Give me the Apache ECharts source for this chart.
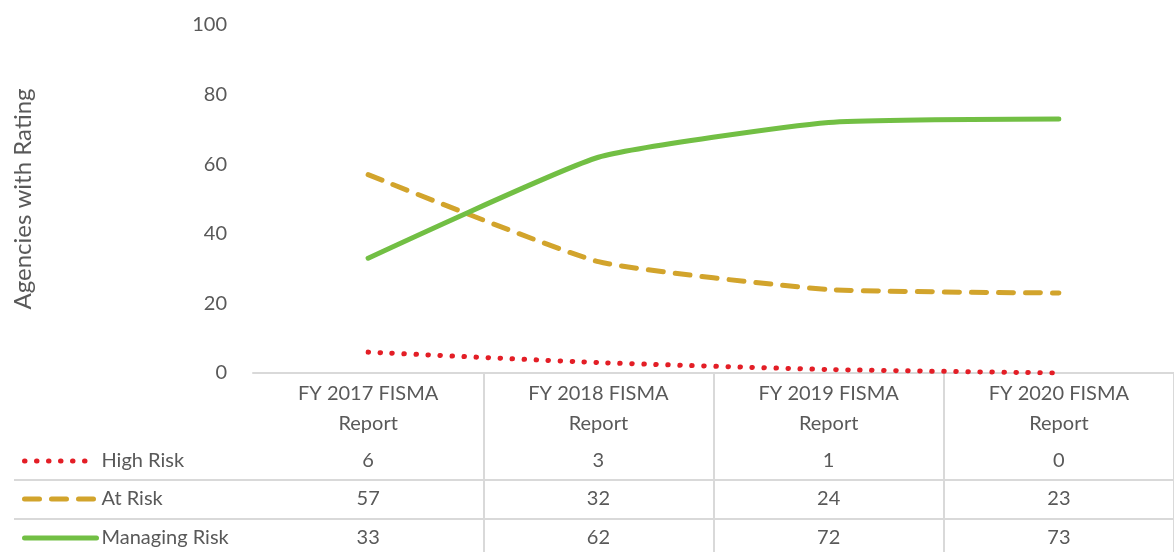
<!DOCTYPE html>
<html>
<head>
<meta charset="utf-8">
<script src="https://cdn.jsdelivr.net/npm/echarts@6/dist/echarts.min.js"></script>
<style>html,body{margin:0;padding:0;background:#fff}#c{width:1174px;height:552px}</style>
</head>
<body>
<div id="c"></div>
<script>
const categories = ['FY 2017 FISMA Report', 'FY 2018 FISMA Report', 'FY 2019 FISMA Report', 'FY 2020 FISMA Report'];
const seriesNames = ['High Risk', 'At Risk', 'Managing Risk'];
const highRisk = [6, 3, 1, 0];
const atRisk = [57, 32, 24, 23];
const managingRisk = [33, 62, 72, 73];
const yTicks = { min: 0, max: 100, interval: 20 };
const yTitle = 'Agencies with Rating';

const TXT = '#595959';
const FONT = 'Lato';
const RULE = '#d9d9d9';
const colors = ['#e31e26', '#d2a42c', '#72bf44'];
const styles = [
  { width: 5, type: [0.5, 11.5], cap: 'round' },
  { width: 5, type: [15, 12], cap: 'round' },
  { width: 5, type: 'solid', cap: 'round' }
];

const chart = echarts.init(document.getElementById('c'));

function rowAxis(vals, off) {
  return {
    type: 'category', gridIndex: 0, position: 'bottom', offset: off,
    data: vals.map(String),
    axisLine: { show: false }, axisTick: { show: false },
    axisLabel: { interval: 0, margin: 0, color: TXT, fontSize: 20, fontFamily: FONT, lineHeight: 24 },
    splitLine: { show: false }
  };
}

function legendRow(i, top) {
  return {
    orient: 'vertical', left: 22, top: top, padding: 0,
    itemWidth: 72, itemHeight: 14, itemGap: 0,
    data: [seriesNames[i]],
    itemStyle: { opacity: 0 },
    lineStyle: Object.assign({ color: colors[i] }, styles[i]),
    textStyle: { color: TXT, fontSize: 20, fontFamily: FONT, lineHeight: 24 }
  };
}

chart.setOption({
  animation: false,
  grid: [
    { left: 253, top: 25, width: 935, height: 348 },
    { left: 253, top: 373, width: 935, height: 179 }
  ],
  legend: [legendRow(0, 449), legendRow(1, 487), legendRow(2, 526)],
  xAxis: [
    {
      type: 'category', gridIndex: 0, data: categories,
      axisLine: { lineStyle: { color: RULE, width: 2 } },
      axisTick: { show: false },
      axisLabel: {
        interval: 0, margin: 6, color: TXT, fontSize: 20, fontFamily: FONT, lineHeight: 30,
        formatter: v => v.replace(' Report', '\nReport')
      }
    },
    rowAxis(highRisk, 76),
    rowAxis(atRisk, 114),
    rowAxis(managingRisk, 153),
    {
      type: 'category', gridIndex: 1, data: categories,
      axisLine: { show: false }, axisTick: { show: false }, axisLabel: { show: false },
      splitLine: { show: true, interval: (i) => i > 0, lineStyle: { color: RULE, width: 2 } }
    }
  ],
  yAxis: [
    {
      type: 'value', gridIndex: 0, min: yTicks.min, max: yTicks.max, interval: yTicks.interval,
      axisLine: { show: false }, axisTick: { show: false }, splitLine: { show: false },
      axisLabel: { margin: 26, color: TXT, fontSize: 20, fontFamily: FONT },
      name: yTitle, nameLocation: 'middle', nameGap: 218, nameRotate: 90,
      nameTextStyle: { color: TXT, fontSize: 24, fontFamily: FONT }
    },
    { type: 'value', gridIndex: 1, show: false }
  ],
  graphic: [
    { type: 'line', shape: { x1: 14, y1: 480, x2: 1174, y2: 480 }, style: { stroke: RULE, lineWidth: 2 } },
    { type: 'line', shape: { x1: 14, y1: 519, x2: 1174, y2: 519 }, style: { stroke: RULE, lineWidth: 2 } }
  ],
  series: [highRisk, atRisk, managingRisk].map((d, i) => ({
    name: seriesNames[i], type: 'line', data: d, symbol: 'none', smooth: 0.15,
    color: colors[i],
    lineStyle: Object.assign({ color: colors[i] }, styles[i])
  }))
});
</script>
</body>
</html>
